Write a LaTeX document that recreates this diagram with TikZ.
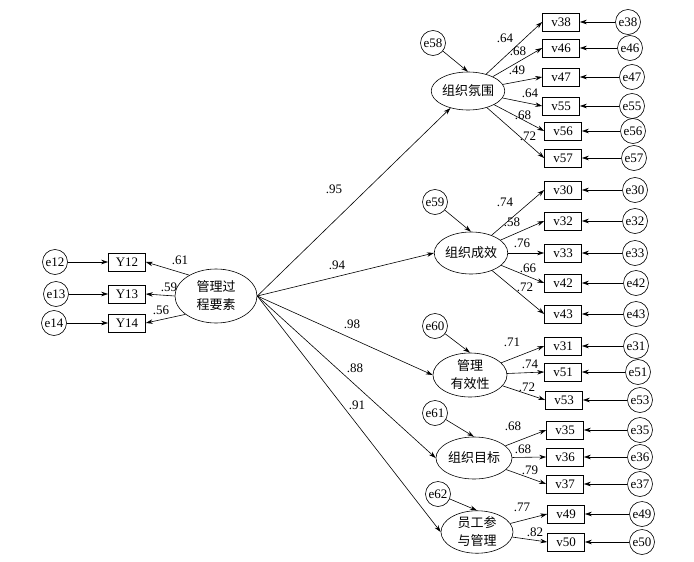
\documentclass[tikz,border=0pt]{standalone}
\usepackage{fontspec}
\setmainfont{Liberation Serif}
\newfontfamily\cjk{Noto Sans CJK SC}
\usetikzlibrary{shapes,arrows,arrows.meta,positioning}

\tikzset{
  obs/.style={draw, rectangle, minimum width=37pt, minimum height=18pt, inner sep=0pt},
  err/.style={draw, circle, minimum size=25pt, inner sep=0pt},
  lat/.style={draw, ellipse, inner sep=0pt, align=center, font=\cjk\fontsize{13}{18}\selectfont},
  link/.style={-{Stealth[length=7pt,width=4.5pt]}, line width=0.6pt},
  coef/.style={inner sep=1pt}
}

\begin{document}
\begin{tikzpicture}[x=1pt, y=-1pt, font=\fontsize{13}{15}\selectfont, line width=0.6pt]
\useasboundingbox (0,0) rectangle (694,562);

% Exogenous latent and its indicators
\node[lat, minimum width=82pt, minimum height=54pt] (mg) at (216,296) {管理过\\程要素};
\node[obs] (Y12) at (127,262) {Y12};
\node[obs] (Y13) at (127,294) {Y13};
\node[obs] (Y14) at (127,323) {Y14};
\node[err] (e12) at (55,262) {e12};
\node[err] (e13) at (56,294) {e13};
\node[err] (e14) at (54,323) {e14};
\draw[link] (e12) -- (Y12);
\draw[link] (e13) -- (Y13);
\draw[link] (e14) -- (Y14);
\draw[link] (mg.142) -- (Y12.east);
\draw[link] (mg.west) -- (Y13.east);
\draw[link] (mg.211) -- (Y14.east);
\node[coef] (c12) at (180,260) {.61};
\node[coef] (c13) at (169,287) {.59};
\node[coef] (c14) at (161,310) {.56};

% Endogenous latents with their residuals
\node[lat, minimum width=72pt, minimum height=38pt] (zzfw) at (468,91) {组织氛围};
\node[lat, minimum width=72pt, minimum height=42pt] (zzcx) at (471,253) {组织成效};
\node[lat, minimum width=74pt, minimum height=44pt] (glyx) at (470,375) {管理\\有效性};
\node[lat, minimum width=76pt, minimum height=42pt] (zzmb) at (474,458) {组织目标};
\node[lat, minimum width=72pt, minimum height=42pt] (ygcy) at (477,532) {员工参\\与管理};
\node[err] (e58) at (433,43) {e58};
\node[err] (e59) at (435,202) {e59};
\node[err] (e60) at (435,326) {e60};
\node[err] (e61) at (435,413) {e61};
\node[err] (e62) at (438,494) {e62};
\draw[link] (e58) -- (zzfw.north);
\draw[link] (e59) -- (zzcx.north);
\draw[link] (e60) -- (glyx.north);
\draw[link] (e61) -- (zzmb.north);
\draw[link] (e62) -- (ygcy.north);

% Structural paths
\draw[link] (mg.east) -- (zzfw);
\draw[link] (mg.east) -- (zzcx.west);
\draw[link] (mg.east) -- (glyx.west);
\draw[link] (mg.east) -- (zzmb.west);
\draw[link] (mg.east) -- (ygcy.west);
\node[coef] (p1) at (334,189) {.95};
\node[coef] (p2) at (337,265) {.94};
\node[coef] (p3) at (352,324) {.98};
\node[coef] (p4) at (355,368) {.88};
\node[coef] (p5) at (357,405) {.91};

% Indicators of zzfw
\foreach \nm/\yy/\vx/\ex/\lx/\ly/\lab in {38/22/561/628/505/38/.64, 46/48/561/630/518/51/.68,
    47/77/561/632/517/70/.49, 55/106/561/632/530/93/.64,
    56/131/563/633/523/115/.68, 57/158/563/634/528/136/.72}{
  \node[obs] (v\nm) at (\vx,\yy) {v\nm};
  \node[err] (e\nm) at (\ex,\yy) {e\nm};
  \draw[link] (e\nm) -- (v\nm);
  \draw[link] (zzfw) -- (v\nm.west);
  \node[coef] (c\nm) at (\lx,\ly) {\lab};
}

% Indicators of zzcx
\foreach \nm/\yy/\vx/\ex/\lx/\ly/\lab in {30/190/563/635/505/202/.74, 32/221/563/635/512/222/.58,
    33/253/563/635/522/243/.76, 42/283/563/636/528/268/.66, 43/314/563/636/525/287/.72}{
  \node[obs] (v\nm) at (\vx,\yy) {v\nm};
  \node[err] (e\nm) at (\ex,\yy) {e\nm};
  \draw[link] (e\nm) -- (v\nm);
  \draw[link] (zzcx) -- (v\nm.west);
  \node[coef] (c\nm) at (\lx,\ly) {\lab};
}

% Indicators of glyx
\foreach \nm/\yy/\vx/\ex/\lx/\ly/\lab in {31/346/563/636/512/342/.71, 51/372/563/638/530/364/.74,
    53/400/564/640/527/387/.72}{
  \node[obs] (v\nm) at (\vx,\yy) {v\nm};
  \node[err] (e\nm) at (\ex,\yy) {e\nm};
  \draw[link] (e\nm) -- (v\nm);
  \draw[link] (glyx) -- (v\nm.west);
  \node[coef] (c\nm) at (\lx,\ly) {\lab};
}

% Indicators of zzmb
\foreach \nm/\yy/\vx/\ex/\lx/\ly/\lab in {35/430/565/640/513/426/.68, 36/457/565/640/523/449/.68,
    37/484/565/640/530/470/.79}{
  \node[obs] (v\nm) at (\vx,\yy) {v\nm};
  \node[err] (e\nm) at (\ex,\yy) {e\nm};
  \draw[link] (e\nm) -- (v\nm);
  \draw[link] (zzmb) -- (v\nm.west);
  \node[coef] (c\nm) at (\lx,\ly) {\lab};
}

% Indicators of ygcy
\foreach \nm/\yy/\vx/\ex/\lx/\ly/\lab in {49/514/566/642/522/507/.77, 50/542/566/642/535/532/.82}{
  \node[obs] (v\nm) at (\vx,\yy) {v\nm};
  \node[err] (e\nm) at (\ex,\yy) {e\nm};
  \draw[link] (e\nm) -- (v\nm);
  \draw[link] (ygcy) -- (v\nm.west);
  \node[coef] (c\nm) at (\lx,\ly) {\lab};
}
\end{tikzpicture}
\end{document}
